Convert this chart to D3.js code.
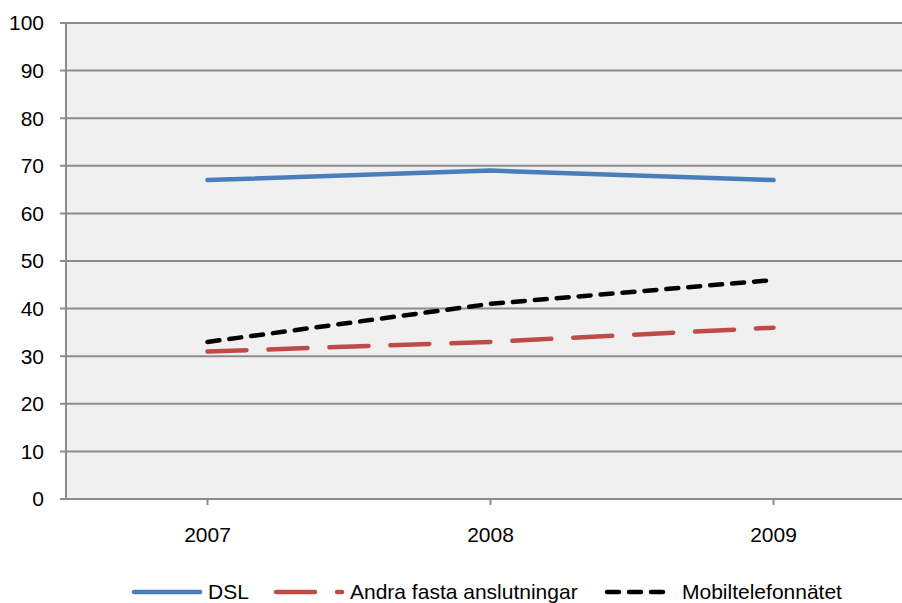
<!DOCTYPE html>
<html>
<head>
<meta charset="utf-8">
<script src="https://cdn.jsdelivr.net/npm/d3@7"></script>
<style>
  body { margin: 0; background: #ffffff; }
  text { font-family: Arial, "Liberation Sans", sans-serif; fill: #000; }
</style>
</head>
<body>
<svg id="chart" width="902" height="603"></svg>
<script>
const years = ["2007", "2008", "2009"];
const dsl = [67, 69, 67];
const andra = [31, 33, 36];
const mobil = [33, 41, 46];
const yTicks = [0, 10, 20, 30, 40, 50, 60, 70, 80, 90, 100];

const series = [
    { name: "DSL", values: dsl, color: "#4a7ebb", dash: null },
    { name: "Andra fasta anslutningar", values: andra, color: "#be4b48", dash: "39,22" },
    { name: "Mobiltelefonnätet", values: mobil, color: "#000000", dash: "12,10" }
];

const margin = { top: 23, left: 66 };
const width = 849;
const height = 476;

const svg = d3.select("#chart");
const g = svg.append("g").attr("transform", `translate(${margin.left},${margin.top})`);

// category scale, 3 bands
const xScale = d3.scalePoint().domain(years).range([0, width]).padding(0.5);
const yScale = d3.scaleLinear().domain([0, 100]).range([height, 0]);

// plot background
g.append("rect")
    .attr("width", width)
    .attr("height", height)
    .attr("fill", "#f0f0f0");

// gridlines
g.selectAll(".grid")
    .data(yTicks)
    .enter()
    .append("line")
    .attr("x1", -6)
    .attr("x2", width)
    .attr("y1", d => yScale(d))
    .attr("y2", d => yScale(d))
    .attr("stroke", "#8c8c8c")
    .attr("stroke-width", 2);

// y axis line
g.append("line")
    .attr("x1", 0).attr("x2", 0)
    .attr("y1", 0).attr("y2", height)
    .attr("stroke", "#8c8c8c")
    .attr("stroke-width", 2);

// y labels
g.selectAll(".ylab")
    .data(yTicks)
    .enter()
    .append("text")
    .attr("x", -22)
    .attr("y", d => yScale(d))
    .attr("dy", "0.35em")
    .attr("text-anchor", "end")
    .style("font-size", "21px")
    .text(d => d);

// x ticks and labels
g.selectAll(".xtick")
    .data(years)
    .enter()
    .append("line")
    .attr("x1", d => xScale(d)).attr("x2", d => xScale(d))
    .attr("y1", height).attr("y2", height + 6)
    .attr("stroke", "#8c8c8c")
    .attr("stroke-width", 2);

g.selectAll(".xlab")
    .data(years)
    .enter()
    .append("text")
    .attr("x", d => xScale(d))
    .attr("y", height + 43)
    .attr("text-anchor", "middle")
    .style("font-size", "21px")
    .text(d => d);

// lines
const line = d3.line()
    .x((d, i) => xScale(years[i]))
    .y(d => yScale(d));

series.forEach(s => {
    g.append("path")
        .datum(s.values)
        .attr("d", line)
        .attr("fill", "none")
        .attr("stroke", s.color)
        .attr("stroke-width", 4.5)
        .attr("stroke-linecap", "round")
        .attr("stroke-dasharray", s.dash);
});

// legend
const legendY = 592;
const legendItems = [
    { x1: 134, x2: 200, tx: 208 },
    { x1: 276, x2: 342, tx: 350 },
    { x1: 607, x2: 666, tx: 682 }
];
series.forEach((s, i) => {
    const it = legendItems[i];
    svg.append("line")
        .attr("x1", it.x1).attr("x2", it.x2)
        .attr("y1", legendY).attr("y2", legendY)
        .attr("stroke", s.color)
        .attr("stroke-width", 4.5)
        .attr("stroke-linecap", "round")
        .attr("stroke-dasharray", s.dash);
    svg.append("text")
        .attr("x", it.tx)
        .attr("y", 599)
        .style("font-size", "21px")
        .text(s.name);
});
</script>
</body>
</html>
